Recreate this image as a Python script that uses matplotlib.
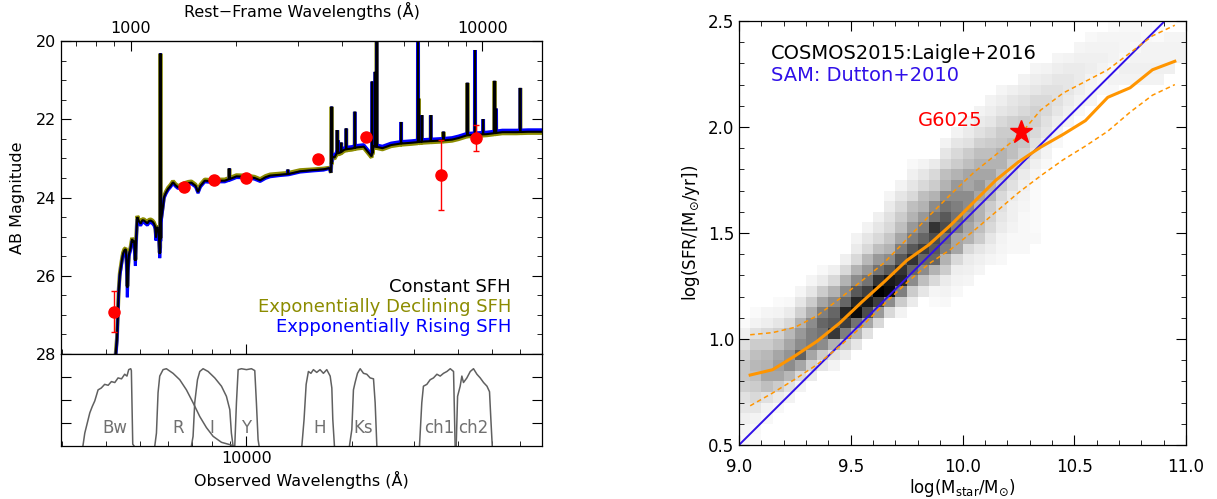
import numpy as np
import matplotlib
matplotlib.use('Agg')
import matplotlib.pyplot as plt
from matplotlib.ticker import LogLocator, NullFormatter, MultipleLocator, FormatStrFormatter

redshift = 3.69

# ---- model SED, rest-frame wavelength (A) and AB mag for the three SFHs ----
rest_wave = [880, 915, 925, 932, 945, 952, 960, 969, 975, 979,
             984, 990, 1000, 1010, 1017, 1023, 1028, 1032, 1037, 1045,
             1055, 1068, 1080, 1092, 1105, 1116, 1128, 1141, 1155, 1166,
             1175, 1181, 1187, 1192, 1202, 1210, 1214, 1220, 1235, 1245,
             1260, 1278, 1300, 1320, 1340, 1364, 1390, 1425, 1460, 1489,
             1530, 1555, 1580, 1625, 1680, 1735, 1790, 1852, 1950, 1999,
             2140, 2250, 2335, 2420, 2493, 2650, 2810, 3034, 3300, 3535,
             3674, 3710, 3740, 3800, 3850, 3950, 4050, 4150, 4250, 4400,
             4600, 4845, 4900, 5200, 5500, 5880, 6300, 6800, 7400, 7750,
             8200, 8550, 9050, 9500, 10300, 11400, 12500, 13500, 15000]
mag_constant = [29.5, 27.6, 26.4, 25.96, 25.6, 25.44, 25.35, 25.32, 25.7, 26.3,
                25.8, 25.44, 25.3, 25.06, 25.15, 25.1, 25.4, 25.62, 25.1, 24.5,
                24.6, 24.67, 24.58, 24.59, 24.63, 24.66, 24.6, 24.59, 24.62, 24.67,
                24.75, 25.02, 24.8, 24.75, 24.9, 25.44, 25.3, 24.6, 24.25, 23.99,
                23.88, 23.78, 23.7, 23.61, 23.68, 23.74, 23.7, 23.66, 23.63, 23.62,
                23.7, 23.86, 23.7, 23.57, 23.58, 23.56, 23.57, 23.57, 23.5, 23.46,
                23.47, 23.5, 23.56, 23.48, 23.44, 23.42, 23.4, 23.33, 23.3, 23.28,
                23.25, 23.36, 22.95, 22.98, 22.88, 22.85, 22.78, 22.76, 22.75, 22.72,
                22.7, 22.95, 22.69, 22.74, 22.66, 22.62, 22.6, 22.57, 22.55, 22.54,
                22.52, 22.48, 22.41, 22.4, 22.38, 22.33, 22.33, 22.32, 22.32]
mag_declining = [29.5, 27.57, 26.37, 25.93, 25.57, 25.41, 25.32, 25.29, 25.67, 26.27,
                 25.77, 25.41, 25.27, 25.03, 25.12, 25.07, 25.37, 25.59, 25.07, 24.47,
                 24.57, 24.64, 24.55, 24.56, 24.6, 24.63, 24.57, 24.56, 24.59, 24.64,
                 24.72, 24.99, 24.77, 24.72, 24.87, 25.41, 25.27, 24.57, 24.22, 23.96,
                 23.85, 23.75, 23.67, 23.58, 23.65, 23.71, 23.67, 23.63, 23.6, 23.59,
                 23.67, 23.83, 23.67, 23.54, 23.55, 23.53, 23.54, 23.54, 23.47, 23.43,
                 23.44, 23.47, 23.53, 23.45, 23.41, 23.39, 23.37, 23.3, 23.28, 23.26,
                 23.24, 23.37, 22.98, 23.01, 22.91, 22.88, 22.81, 22.79, 22.78, 22.75,
                 22.73, 22.98, 22.72, 22.77, 22.69, 22.65, 22.63, 22.6, 22.58, 22.57,
                 22.55, 22.51, 22.44, 22.43, 22.41, 22.36, 22.36, 22.35, 22.35]
mag_rising = [29.6, 27.65, 26.45, 26.01, 25.65, 25.49, 25.4, 25.37, 25.8, 26.55,
              25.85, 25.49, 25.35, 25.11, 25.2, 25.15, 25.5, 25.75, 25.15, 24.55,
              24.65, 24.72, 24.63, 24.64, 24.68, 24.71, 24.65, 24.64, 24.67, 24.72,
              24.8, 25.1, 24.85, 24.8, 24.95, 25.55, 25.35, 24.65, 24.28, 24.02,
              23.91, 23.81, 23.73, 23.64, 23.71, 23.77, 23.73, 23.69, 23.66, 23.65,
              23.73, 23.89, 23.73, 23.6, 23.61, 23.59, 23.6, 23.6, 23.53, 23.49,
              23.5, 23.53, 23.59, 23.51, 23.47, 23.44, 23.42, 23.35, 23.32, 23.3,
              23.26, 23.36, 22.9, 22.93, 22.83, 22.8, 22.73, 22.71, 22.7, 22.67,
              22.65, 22.9, 22.64, 22.69, 22.61, 22.57, 22.55, 22.52, 22.5, 22.49,
              22.47, 22.43, 22.36, 22.35, 22.33, 22.28, 22.28, 22.27, 22.27]

# emission lines (rest A) and their peak magnitude
line_rest = [1216, 1909, 2800, 3727, 3869, 3889, 3970, 4102, 4340, 4861,
             4959, 5007, 5876, 6563, 6584, 6725, 7136, 7751, 9069, 9531,
             10050, 10830, 10938, 12818]
line_peak = [20.32, 23.26, 23.29, 21.68, 22.28, 22.54, 22.6, 22.24, 21.81, 21.04,
             20.79, 19.5, 22.07, 19.0, 21.47, 21.9, 21.9, 22.32, 21.07, 20.23,
             22.0, 21.02, 21.73, 21.2]

# photometry (observed A, AB mag, error)
phot_wave = [4208, 6643, 8088, 9968, 15970, 21940, 35770, 44900]
phot_mag = [26.92, 23.74, 23.56, 23.50, 23.01, 22.45, 23.42, 22.48]
phot_err = [0.53, 0.05, 0.05, 0.06, 0.10, 0.07, 0.89, 0.34]

# filter transmission curves (observed A)
filters = {
    'Bw': ([3433, 3475, 3591, 3650, 3710, 3791, 3870, 3958, 4050, 4136,
            4230, 4321, 4420, 4512, 4580, 4633, 4694, 4714, 4757, 4798],
           [0.0, 0.14, 0.36, 0.43, 0.49, 0.61, 0.63, 0.67, 0.66, 0.70,
            0.69, 0.74, 0.73, 0.78, 0.76, 0.83, 0.84, 0.82, 0.02, 0.0]),
    'R': ([5495, 5555, 5614, 5676, 5801, 5928, 6193, 6471, 6760, 7060,
           7377, 7705, 8050, 8502, 9073, 9173],
          [0.0, 0.14, 0.58, 0.76, 0.83, 0.84, 0.79, 0.72, 0.61, 0.47,
           0.32, 0.20, 0.105, 0.04, 0.01, 0.0]),
    'I': ([6983, 7060, 7137, 7266, 7377, 7539, 7790, 8138, 8502, 8782,
           8979, 9073, 9173],
          [0.0, 0.105, 0.47, 0.72, 0.81, 0.84, 0.81, 0.74, 0.65, 0.54,
           0.395, 0.14, 0.0]),
    'Y': ([9276, 9378, 9483, 9691, 10013, 10344, 10573, 10687, 10805, 10877],
          [0.0, 0.47, 0.83, 0.84, 0.83, 0.84, 0.82, 0.47, 0.07, 0.0]),
    'H': ([14390, 14600, 14800, 15020, 15270, 15520, 15860, 16210, 16570, 16940,
           17320, 17510, 17620, 17810],
          [0.0, 0.29, 0.67, 0.81, 0.79, 0.83, 0.80, 0.83, 0.79, 0.83,
           0.76, 0.63, 0.29, 0.0]),
    'Ks': ([19650, 19960, 20170, 20390, 20710, 21080, 21540, 22010, 22500, 23000,
            23250, 23510],
           [0.0, 0.18, 0.61, 0.69, 0.79, 0.84, 0.79, 0.78, 0.74, 0.73,
            0.47, 0.0]),
    'ch1': ([31080, 31550, 31890, 32610, 33320, 34060, 34830, 35590, 36370, 37190,
             38010, 38840, 39250],
            [0.0, 0.47, 0.65, 0.67, 0.72, 0.74, 0.78, 0.76, 0.79, 0.81,
             0.84, 0.81, 0.0]),
    'ch2': ([39520, 39880, 40560, 41010, 41450, 42380, 43330, 44260, 45260, 46250,
             47270, 48340, 49150, 49590, 50040],
            [0.0, 0.54, 0.65, 0.76, 0.69, 0.74, 0.81, 0.84, 0.78, 0.74,
             0.69, 0.65, 0.59, 0.29, 0.0]),
}
filter_label_wave = [4226, 6395, 7957, 9968, 16150, 21540, 35430, 44290]

# ---- right panel: COSMOS2015 density (per 0.05 dex column: first row, values in %) ----
heat_cols = [
    (0, [3, 4, 6, 10, 12, 18, 22, 22, 18, 13, 6, 2]),
    (0, [2, 3, 5, 10, 15, 20, 25, 28, 25, 20, 12, 5, 2]),
    (2, [3, 5, 12, 25, 35, 30, 28, 20, 15, 7, 4]),
    (3, [3, 8, 20, 35, 38, 35, 25, 18, 10, 5, 2]),
    (4, [5, 12, 28, 45, 42, 35, 28, 15, 8, 3]),
    (5, [5, 15, 35, 62, 45, 40, 30, 18, 10, 4]),
    (6, [8, 18, 35, 50, 50, 45, 32, 20, 10, 4]),
    (7, [10, 20, 45, 55, 60, 50, 35, 20, 8, 3]),
    (7, [5, 12, 30, 78, 65, 60, 45, 30, 15, 6]),
    (8, [8, 20, 50, 75, 85, 60, 45, 30, 15, 6]),
    (9, [10, 30, 55, 95, 85, 65, 45, 30, 15, 8, 5]),
    (10, [12, 35, 70, 90, 75, 55, 40, 28, 15, 10, 5]),
    (11, [15, 40, 75, 100, 80, 55, 40, 25, 15, 10, 6]),
    (12, [15, 45, 95, 90, 65, 45, 30, 22, 15, 12, 8, 4]),
    (12, [5, 20, 50, 85, 80, 65, 50, 35, 25, 20, 15, 10, 5]),
    (13, [8, 20, 45, 60, 80, 65, 50, 40, 30, 25, 15, 10, 6, 3]),
    (14, [10, 25, 45, 60, 75, 60, 50, 40, 30, 25, 15, 10, 5]),
    (13, [2, 4, 15, 30, 60, 65, 70, 80, 55, 45, 30, 20, 15, 8]),
    (13, [3, 5, 8, 20, 30, 50, 55, 70, 65, 55, 45, 30, 25, 15, 10, 5]),
    (14, [3, 5, 7, 15, 35, 35, 50, 55, 50, 45, 40, 30, 20, 15, 10, 5]),
    (15, [4, 6, 8, 15, 30, 35, 40, 45, 45, 35, 35, 25, 20, 12, 8, 5]),
    (16, [4, 6, 10, 20, 25, 30, 30, 35, 40, 35, 30, 25, 18, 12, 8, 5]),
    (17, [4, 7, 10, 15, 18, 20, 28, 30, 35, 30, 25, 20, 15, 10, 7, 5]),
    (17, [3, 4, 5, 8, 10, 12, 15, 20, 25, 30, 30, 22, 20, 15, 10, 7, 4]),
    (18, [3, 3, 5, 6, 6, 8, 12, 15, 20, 25, 25, 20, 18, 12, 10, 6]),
    (18, [3, 3, 3, 3, 4, 5, 6, 8, 12, 18, 22, 20, 20, 15, 12, 8, 5]),
    (19, [3, 2, 2, 2, 2, 2, 4, 6, 10, 12, 15, 18, 18, 15, 10, 7, 4]),
    (26, [3, 5, 6, 10, 12, 15, 15, 12, 8, 5]),
    (28, [3, 5, 7, 10, 12, 12, 10, 7, 4]),
    (30, [4, 6, 8, 10, 10, 8, 5]),
    (31, [3, 5, 7, 8, 8, 6, 4]),
    (32, [4, 4, 5, 7, 6, 5, 3]),
    (33, [3, 3, 5, 6, 5, 4]),
    (33, [3, 5, 3, 5, 5, 4, 2]),
    (34, [5, 6, 3, 4, 4, 3]),
    (34, [5, 6, 5, 3, 4, 3]),
    (34, [5, 6, 5, 5, 3, 3]),
    (34, [5, 6, 5, 5, 2, 2]),
    (35, [6, 5, 5, 4]),
    (36, [5, 5, 4]),
]

bin_mass = [9.05, 9.15, 9.25, 9.35, 9.45, 9.55, 9.65, 9.75, 9.85, 9.95,
            10.05, 10.15, 10.25, 10.35, 10.45, 10.55, 10.65, 10.75, 10.85, 10.95]
sfr_median = [0.83, 0.855, 0.92, 0.99, 1.075, 1.175, 1.27, 1.37, 1.445, 1.54,
              1.645, 1.75, 1.835, 1.905, 1.965, 2.03, 2.14, 2.185, 2.27, 2.31]
sfr_upper = [1.02, 1.03, 1.055, 1.11, 1.19, 1.275, 1.36, 1.47, 1.58, 1.685,
             1.785, 1.87, 1.955, 2.08, 2.16, 2.215, 2.27, 2.35, 2.43, 2.48]
sfr_lower = [0.685, 0.745, 0.81, 0.88, 0.965, 1.06, 1.165, 1.265, 1.355, 1.425,
             1.51, 1.6, 1.69, 1.77, 1.845, 1.91, 1.98, 2.07, 2.15, 2.2]
sam_mass = [9.0, 10.905]
sam_sfr = [0.5, 2.5]
g6025 = (10.26, 1.975)


def with_lines(mags):
    wl = list(rest_wave)
    m = list(mags)
    base = np.interp(line_rest, rest_wave, mags)
    for lam, pk, b in zip(line_rest, line_peak, base):
        wl += [lam * 0.9985, lam, lam * 1.0015]
        m += [b, pk, b]
    order = np.argsort(wl)
    return np.array(wl)[order] * (1 + redshift), np.array(m)[order]


W, H = 1217, 499
fig = plt.figure(figsize=(W / 100, H / 100), dpi=100)
ax = fig.add_axes([61.3 / W, 1 - 354 / H, (542 - 61.3) / W, (354 - 41) / H])
axf = fig.add_axes([61.3 / W, 1 - 446 / H, (542 - 61.3) / W, (446 - 354) / H], sharex=ax)
axr = fig.add_axes([739 / W, 1 - 445 / H, (1186 - 739) / W, (445 - 21) / H])

olive = '#8c8c00'
for mags, col, lw in [(mag_declining, olive, 2.8), (mag_rising, '#0000ff', 2.2),
                      (mag_constant, 'black', 1.5)]:
    x, y = with_lines(mags)
    ax.plot(x, y, color=col, lw=lw, solid_joinstyle='bevel')

ax.errorbar(phot_wave, phot_mag, yerr=phot_err, fmt='o', color='red', ms=8,
            elinewidth=1, capsize=2.5, capthick=1, zorder=5)

ax.set_xscale('log')
ax.set_xlim(2980, 69300)
ax.set_ylim(28, 20)
ax.set_yticks([20, 22, 24, 26, 28])
ax.yaxis.set_minor_locator(MultipleLocator(0.5))
ax.xaxis.set_minor_locator(LogLocator(base=10, subs=np.arange(2, 10), numticks=30))
ax.xaxis.set_minor_formatter(NullFormatter())
ax.tick_params(which='both', direction='in', top=False, right=True, labelbottom=False,
               labelsize=11.5)
ax.tick_params(which='major', length=7)
ax.tick_params(which='minor', length=3.5)
ax.set_ylabel('AB Magnitude', fontsize=11.5, labelpad=8)

sec = ax.secondary_xaxis('top', functions=(lambda w: w / (1 + redshift),
                                           lambda w: w * (1 + redshift)))
sec.set_xticks([1000, 10000])
sec.set_xticklabels(['1000', '10000'])
sec.xaxis.set_minor_locator(LogLocator(base=10, subs=np.arange(2, 10), numticks=30))
sec.xaxis.set_minor_formatter(NullFormatter())
sec.tick_params(which='both', direction='in', labelsize=11.5)
sec.tick_params(which='major', length=7)
sec.tick_params(which='minor', length=3.5)
sec.set_xlabel('Rest\u2212Frame Wavelengths (\u00c5)', fontsize=11.5, labelpad=3)

ax.text(56600, 26.28, 'Constant SFH', color='black', ha='right', va='center', fontsize=13)
ax.text(56600, 26.80, 'Exponentially Declining SFH', color=olive, ha='right', va='center',
        fontsize=13)
ax.text(56600, 27.31, 'Expponentially Rising SFH', color='#0000ff', ha='right', va='center',
        fontsize=13)

for (name, (fw, ft)), lx in zip(filters.items(), filter_label_wave):
    axf.plot(fw, ft, color='#606060', lw=1.1)
    axf.text(lx, 0.2, name, color='#707070', ha='center', va='center', fontsize=12)

axf.set_ylim(0, 1)
axf.set_yticks([0.25, 0.5, 0.75])
axf.tick_params(axis='y', which='both', direction='in', left=True, right=True,
                labelleft=False, length=7)
axf.set_xticks([10000])
axf.set_xticklabels(['10000'])
axf.tick_params(axis='x', which='both', direction='in', top=False, labelsize=11.5)
axf.tick_params(axis='x', which='major', length=7)
axf.tick_params(axis='x', which='minor', length=3.5)
axf.xaxis.set_minor_formatter(NullFormatter())
axf.set_xlim(2980, 69300)
axf.set_xlabel('Observed Wavelengths (\u00c5)', fontsize=11.5)

# ---- right panel ----
grid = np.zeros((40, 40))
for i, (j0, vals) in enumerate(heat_cols):
    grid[j0:j0 + len(vals), i] = vals
xedges = np.linspace(9.0, 11.0, 41)
yedges = np.linspace(0.5, 2.5, 41)
axr.pcolormesh(xedges, yedges, grid, cmap='gray_r', vmin=0, vmax=100)

axr.plot(sam_mass, sam_sfr, color='#3010e8', lw=1.4)
axr.plot(bin_mass, sfr_median, color='#ff9500', lw=2.2)
axr.plot(bin_mass, sfr_upper, color='#ff9500', lw=1.1, dashes=(3, 2.2))
axr.plot(bin_mass, sfr_lower, color='#ff9500', lw=1.1, dashes=(3, 2.2))
axr.plot(*g6025, marker='*', color='red', ms=17, zorder=6)
axr.text(9.8, 2.033, 'G6025', color='red', fontsize=14, va='center', ha='left')
axr.text(9.142, 2.348, 'COSMOS2015:Laigle+2016', color='black', fontsize=14, va='center')
axr.text(9.142, 2.245, 'SAM: Dutton+2010', color='#3010e8', fontsize=14, va='center')

axr.set_xlim(9, 11)
axr.set_ylim(0.5, 2.5)
axr.xaxis.set_major_locator(MultipleLocator(0.5))
axr.xaxis.set_minor_locator(MultipleLocator(0.1))
axr.yaxis.set_major_locator(MultipleLocator(0.5))
axr.yaxis.set_minor_locator(MultipleLocator(0.1))
axr.xaxis.set_major_formatter(FormatStrFormatter('%.1f'))
axr.yaxis.set_major_formatter(FormatStrFormatter('%.1f'))
axr.tick_params(which='both', direction='in', top=True, right=True, labelsize=12)
axr.tick_params(which='major', length=7)
axr.tick_params(which='minor', length=3.5)
axr.tick_params(axis='x', pad=9)
axr.set_xlabel(r'log(M$_{\rm star}$/M$_{\odot}$)', fontsize=12, labelpad=1)
axr.set_ylabel(r'log(SFR/[M$_{\odot}$/yr])', fontsize=12)

for a in (ax, axf, axr):
    for s in a.spines.values():
        s.set_linewidth(0.9)

fig.savefig('out.png', dpi=100)
